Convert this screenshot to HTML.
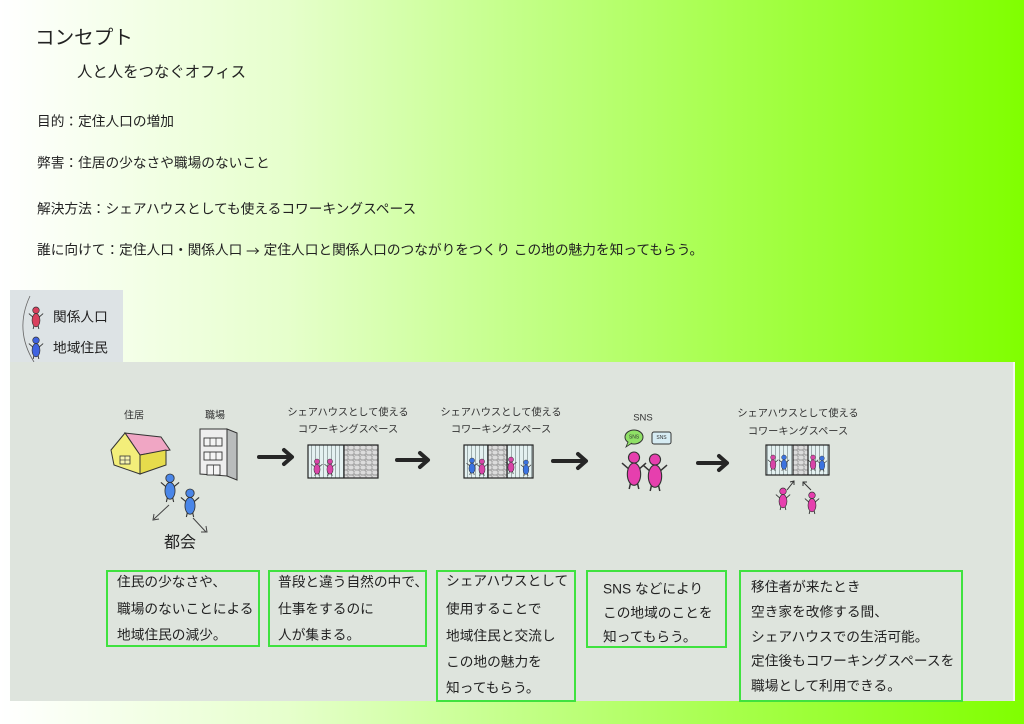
<!DOCTYPE html>
<html><head><meta charset="utf-8">
<style>
html,body{margin:0;padding:0;}
body{width:1024px;height:724px;overflow:hidden;position:relative;
background:linear-gradient(to right,#ffffff 0%,#e6ffcc 28%,#c4ff8a 50%,#a6ff4a 72%,#80ff00 100%);
font-family:"Liberation Sans","Noto Sans CJK JP",sans-serif;color:#222;}
svg text{font-family:"Liberation Sans","Noto Sans CJK JP",sans-serif;}
</style></head>
<body>
<svg width="1024" height="724" viewBox="0 0 1024 724" style="position:absolute;left:0;top:0">
<defs>
  <pattern id="st" width="6" height="5" patternUnits="userSpaceOnUse">
    <rect width="6" height="5" fill="#aaaaaa"/>
    <ellipse cx="3" cy="2.5" rx="2.6" ry="1.9" fill="#dcdcdc"/>
    <ellipse cx="0" cy="0" rx="1.5" ry="1" fill="#cfcfcf"/>
  </pattern>
  <pattern id="sp" width="4" height="10" patternUnits="userSpaceOnUse">
    <rect width="4" height="10" fill="#e4f1f1"/>
    <rect x="3" width="0.8" height="10" fill="#8c9b9b"/>
  </pattern>
  <g id="pp">
    <line x1="-3" y1="9" x2="-6.5" y2="6" stroke="#333" stroke-width="0.8"/>
    <line x1="3" y1="9" x2="6.5" y2="6" stroke="#333" stroke-width="0.8"/>
    <line x1="-1.8" y1="16.5" x2="-2.6" y2="20" stroke="#333" stroke-width="0.8"/>
    <line x1="1.8" y1="16.5" x2="2.6" y2="20" stroke="#333" stroke-width="0.8"/>
    <circle cx="0" cy="3" r="3" fill="currentColor" stroke="#333" stroke-width="0.6"/>
    <ellipse cx="0" cy="12" rx="3.6" ry="6" fill="currentColor" stroke="#333" stroke-width="0.6"/>
  </g>
</defs>

<!-- header text -->
<text x="35" y="38" font-size="19.6" dominant-baseline="central" fill="#222">コンセプト</text>
<text x="77" y="72.5" font-size="15.4" dominant-baseline="central" fill="#222">人と人をつなぐオフィス</text>
<text x="37" y="121.5" font-size="13.7" dominant-baseline="central" fill="#222">目的：定住人口の増加</text>
<text x="37" y="163" font-size="13.7" dominant-baseline="central" fill="#222">弊害：住居の少なさや職場のないこと</text>
<text x="37" y="209" font-size="13.7" dominant-baseline="central" fill="#222">解決方法：シェアハウスとしても使えるコワーキングスペース</text>
<text x="37" y="250" font-size="13.7" dominant-baseline="central" fill="#222">誰に向けて：定住人口・関係人口 <tspan style="font-family:'Noto Sans CJK JP',sans-serif">→</tspan> 定住人口と関係人口のつながりをつくり この地の魅力を知ってもらう。</text>

<!-- legend -->
<rect x="10" y="290" width="113" height="72" fill="#dde3e5"/>
<path d="M30,296 Q14,330 34,362" stroke="#666" stroke-width="0.8" fill="none"/>
<use href="#pp" transform="translate(36,307) scale(1.1)" style="color:#d9405e"/>
<use href="#pp" transform="translate(36,337) scale(1.1)" style="color:#3f63e0"/>
<text x="53" y="317" font-size="13.7" dominant-baseline="central" fill="#222">関係人口</text>
<text x="53" y="348" font-size="13.7" dominant-baseline="central" fill="#222">地域住民</text>

<!-- paper -->
<rect x="10" y="362" width="1003" height="339" fill="#dee4dd"/>
<rect x="1013" y="362" width="2" height="339" fill="#f4f6f2"/>

<!-- labels -->
<text x="134" y="416" font-size="10" text-anchor="middle" dominant-baseline="central" fill="#333">住居</text>
<text x="215" y="416" font-size="10" text-anchor="middle" dominant-baseline="central" fill="#333">職場</text>
<text x="348" y="413" font-size="10.2" text-anchor="middle" dominant-baseline="central" fill="#333">シェアハウスとして使える</text>
<text x="348" y="430" font-size="10.2" text-anchor="middle" dominant-baseline="central" fill="#333">コワーキングスペース</text>
<text x="501" y="413" font-size="10.2" text-anchor="middle" dominant-baseline="central" fill="#333">シェアハウスとして使える</text>
<text x="501" y="430" font-size="10.2" text-anchor="middle" dominant-baseline="central" fill="#333">コワーキングスペース</text>
<text x="643" y="418" font-size="9.5" text-anchor="middle" dominant-baseline="central" fill="#333">SNS</text>
<text x="798" y="414" font-size="10.2" text-anchor="middle" dominant-baseline="central" fill="#333">シェアハウスとして使える</text>
<text x="798" y="432" font-size="10.2" text-anchor="middle" dominant-baseline="central" fill="#333">コワーキングスペース</text>

<!-- house -->
<polygon points="125,433 161,437 170,450 140,455" fill="#f0a6c4" stroke="#333" stroke-width="1"/>
<polygon points="111,450 125,433 140,455 140,474 114,465" fill="#f3ee7a" stroke="#333" stroke-width="1"/>
<polygon points="140,455 166,450 166,465 140,474" fill="#e6dc4c" stroke="#333" stroke-width="1"/>
<rect x="120" y="456" width="10" height="8" fill="#f6f3b0" stroke="#333" stroke-width="0.8"/>
<line x1="125" y1="456" x2="125" y2="464" stroke="#333" stroke-width="0.6"/>
<line x1="120" y1="460" x2="130" y2="460" stroke="#333" stroke-width="0.6"/>

<!-- building -->
<polygon points="200,429 227,429 227,476 200,474" fill="#eeeeee" stroke="#333" stroke-width="1"/>
<polygon points="227,429 237,433 237,480 227,476" fill="#b9bcbc" stroke="#333" stroke-width="1"/>
<rect x="204" y="438" width="18" height="8" fill="#f4f4f4" stroke="#333" stroke-width="0.9"/>
<line x1="210" y1="438" x2="210" y2="446" stroke="#333" stroke-width="0.7"/>
<line x1="216" y1="438" x2="216" y2="446" stroke="#333" stroke-width="0.7"/>
<rect x="204" y="452" width="18" height="8" fill="#f4f4f4" stroke="#333" stroke-width="0.9"/>
<line x1="210" y1="452" x2="210" y2="460" stroke="#333" stroke-width="0.7"/>
<line x1="216" y1="452" x2="216" y2="460" stroke="#333" stroke-width="0.7"/>
<rect x="207" y="465" width="13" height="10" fill="#f4f4f4" stroke="#333" stroke-width="0.9"/>
<line x1="213.5" y1="465" x2="213.5" y2="475" stroke="#333" stroke-width="0.7"/>

<!-- city people -->
<use href="#pp" transform="translate(170,474) scale(1.4)" style="color:#4a86e8"/>
<use href="#pp" transform="translate(190,489) scale(1.4)" style="color:#4a86e8"/>
<line x1="169" y1="505" x2="154" y2="519" stroke="#444" stroke-width="1"/>
<polyline points="154,514 153,520 159,519" fill="none" stroke="#444" stroke-width="1"/>
<line x1="193" y1="518" x2="206" y2="532" stroke="#444" stroke-width="1"/>
<polyline points="206,526 207,532 201,532" fill="none" stroke="#444" stroke-width="1"/>
<text x="180" y="543" font-size="16" text-anchor="middle" dominant-baseline="central" fill="#222">都会</text>

<!-- big arrows -->
<g stroke="#262626" stroke-width="4" fill="none" stroke-linecap="round" stroke-linejoin="round">
  <line x1="259" y1="457" x2="291" y2="457"/><polyline points="284,450 292,457 284,464"/>
  <line x1="397" y1="460" x2="427" y2="460"/><polyline points="420,453 428,460 420,467"/>
  <line x1="553" y1="461" x2="585" y2="461"/><polyline points="578,454 586,461 578,468"/>
  <line x1="698" y1="463" x2="726" y2="463"/><polyline points="719,456 727,463 719,470"/>
</g>

<!-- panel 1 -->
<rect x="308" y="445" width="36" height="33" fill="url(#sp)"/>
<rect x="344" y="445" width="34" height="33" fill="url(#st)"/>
<use href="#pp" transform="translate(317,459) scale(0.85)" style="color:#d845a8"/>
<use href="#pp" transform="translate(330,459) scale(0.85)" style="color:#d845a8"/>
<rect x="308" y="445" width="70" height="33" fill="none" stroke="#222" stroke-width="1.2"/>
<line x1="344" y1="445" x2="344" y2="478" stroke="#222" stroke-width="1.2"/>

<!-- panel 2 -->
<rect x="464" y="445" width="24" height="33" fill="url(#sp)"/>
<rect x="488" y="445" width="19" height="33" fill="url(#st)"/>
<rect x="507" y="445" width="26" height="33" fill="url(#sp)"/>
<use href="#pp" transform="translate(472,458) scale(0.85)" style="color:#3b73e0"/>
<use href="#pp" transform="translate(482,459) scale(0.85)" style="color:#d845a8"/>
<use href="#pp" transform="translate(511,457) scale(0.85)" style="color:#d845a8"/>
<use href="#pp" transform="translate(526,460) scale(0.8)" style="color:#3b73e0"/>
<rect x="464" y="445" width="69" height="33" fill="none" stroke="#222" stroke-width="1.2"/>
<line x1="488" y1="445" x2="488" y2="478" stroke="#222" stroke-width="1.2"/>
<line x1="507" y1="445" x2="507" y2="478" stroke="#222" stroke-width="1.2"/>

<!-- SNS -->
<ellipse cx="634" cy="437" rx="9" ry="7" fill="#8fe066" stroke="#333" stroke-width="1"/>
<path d="M628,442 L626,447 L632,443" fill="#8fe066" stroke="#333" stroke-width="0.8"/>
<text x="634" y="437.5" font-size="5" text-anchor="middle" dominant-baseline="central" fill="#333">SNS</text>
<rect x="652" y="432" width="19" height="12" rx="2" fill="#d6ecf3" stroke="#333" stroke-width="1"/>
<text x="661.5" y="438" font-size="5" text-anchor="middle" dominant-baseline="central" fill="#333">SNS</text>
<use href="#pp" transform="translate(634,452) scale(1.85)" style="color:#e63fae"/>
<use href="#pp" transform="translate(655,454) scale(1.85)" style="color:#e63fae"/>

<!-- panel 4 -->
<rect x="766" y="445" width="27" height="30" fill="url(#sp)"/>
<rect x="793" y="445" width="15" height="30" fill="url(#st)"/>
<rect x="808" y="445" width="21" height="30" fill="url(#sp)"/>
<use href="#pp" transform="translate(773,455) scale(0.8)" style="color:#d845a8"/>
<use href="#pp" transform="translate(784,455) scale(0.8)" style="color:#3b73e0"/>
<use href="#pp" transform="translate(813,455) scale(0.8)" style="color:#d845a8"/>
<use href="#pp" transform="translate(822,456) scale(0.78)" style="color:#3b73e0"/>
<rect x="766" y="445" width="63" height="30" fill="none" stroke="#222" stroke-width="1.2"/>
<line x1="793" y1="445" x2="793" y2="475" stroke="#222" stroke-width="1.2"/>
<line x1="808" y1="445" x2="808" y2="475" stroke="#222" stroke-width="1.2"/>
<use href="#pp" transform="translate(783,488) scale(1.1)" style="color:#e63fae"/>
<use href="#pp" transform="translate(812,492) scale(1.1)" style="color:#e63fae"/>
<g stroke="#333" stroke-width="1" fill="none">
  <line x1="787" y1="490" x2="794" y2="481"/><polyline points="790,482 794,481 794,485"/>
  <line x1="811" y1="490" x2="803" y2="482"/><polyline points="803,486 803,482 807,482"/>
</g>

<!-- text boxes -->
<g fill="none" stroke="#3fe23f" stroke-width="2">
  <rect x="107" y="571" width="152" height="75"/>
  <rect x="269" y="571" width="157" height="75"/>
  <rect x="437" y="571" width="138" height="130"/>
  <rect x="587" y="571" width="139" height="76"/>
  <rect x="740" y="571" width="222" height="130"/>
</g>
<g font-size="13.7" fill="#222" dominant-baseline="central">
  <text x="117" y="582">住民の少なさや、</text>
  <text x="117" y="609">職場のないことによる</text>
  <text x="117" y="635">地域住民の減少。</text>

  <text x="278" y="582">普段と違う自然の中で、</text>
  <text x="278" y="609">仕事をするのに</text>
  <text x="278" y="635">人が集まる。</text>

  <text x="446" y="581">シェアハウスとして</text>
  <text x="446" y="609">使用することで</text>
  <text x="446" y="636">地域住民と交流し</text>
  <text x="446" y="662">この地の魅力を</text>
  <text x="446" y="688">知ってもらう。</text>

  <text x="603" y="589">SNS などにより</text>
  <text x="603" y="613">この地域のことを</text>
  <text x="603" y="637">知ってもらう。</text>

  <text x="751" y="587">移住者が来たとき</text>
  <text x="751" y="612">空き家を改修する間、</text>
  <text x="751" y="637">シェアハウスでの生活可能。</text>
  <text x="751" y="661">定住後もコワーキングスペースを</text>
  <text x="751" y="686">職場として利用できる。</text>
</g>
</svg>
</body></html>
